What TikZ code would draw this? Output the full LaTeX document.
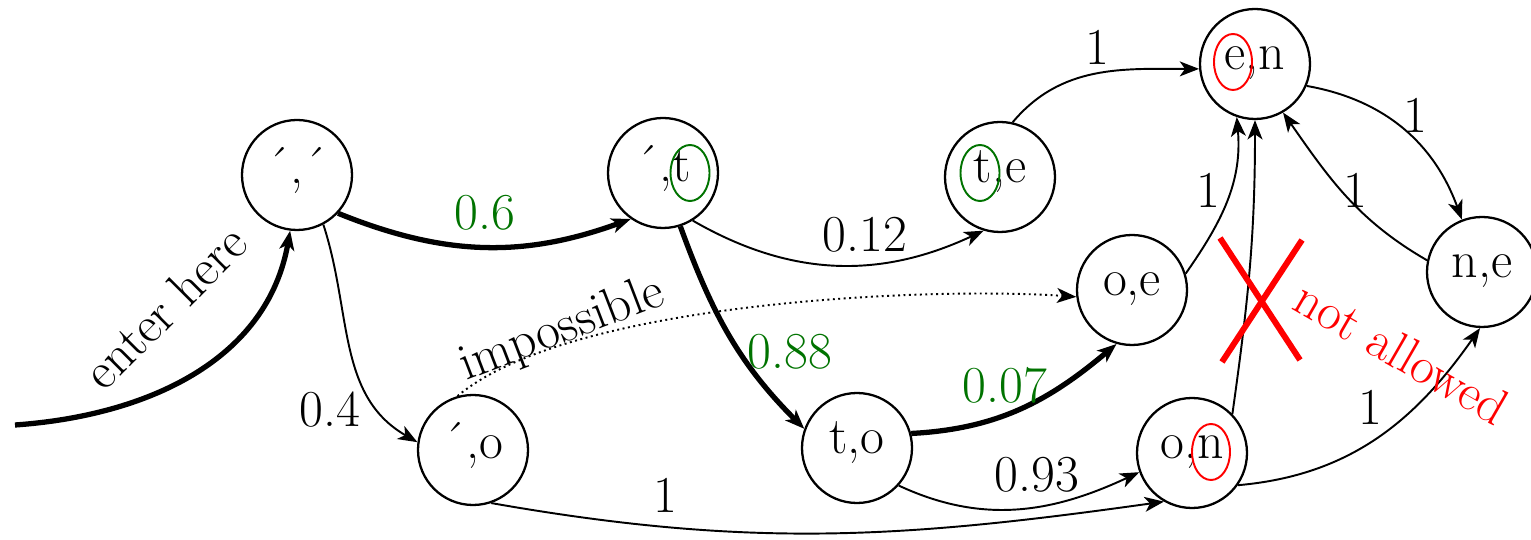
\documentclass[tikz,border=0pt]{standalone}
\usetikzlibrary{arrows.meta}
\definecolor{verde}{RGB}{0,115,0}

\begin{document}
\begin{tikzpicture}[
    >={Stealth[length=11pt,width=8.5pt,inset=3pt]},
    estado/.style={draw,circle,line width=1.3pt,minimum size=2.2cm,inner sep=0pt,
        text height=0.78em,text depth=0.16em},
    acento/.style={text height=1.1em},
    fina/.style={->,line width=1.1pt},
    grossa/.style={->,line width=3pt},
    rotulo/.style={inner sep=0pt},
    font=\fontsize{29.5}{34}\selectfont]
    \useasboundingbox (0,0) rectangle (30.62,10.8);
    % Estados
    \node[estado,acento] (sqq) at (5.94,7.30) {´,´};
    \node[estado,acento] (sqt) at (13.26,7.34) {´,t};
    \node[estado] (ste) at (20.00,7.26) {t,e};
    \node[estado] (sen) at (25.10,9.52) {e,n};
    \node[estado] (soe) at (22.64,5.00) {o,e};
    \node[estado] (sne) at (29.64,5.36) {n,e};
    \node[estado,acento] (sqo) at (9.46,1.80) {´,o};
    \node[estado] (sto) at (17.14,1.84) {t,o};
    \node[estado] (son) at (23.84,1.74) {o,n};
    % Entrada
    \coordinate (inicio) at (0.30,2.30);
    \draw[grossa] (inicio) to[out=4,in=-100] (sqq.-97);
    \node[rotulo,rotate=45] (entra) at (3.30,4.66) {enter here};
    % Caminho verde
    \draw[grossa] (sqq.-43) to[out=-22,in=-160] (sqt.-125);
    \node[rotulo,text=verde] (p06) at (9.70,6.54) {0.6};
    \draw[grossa] (sqt.-72) to[out=-70,in=135] (sto.160);
    \node[rotulo,text=verde] (p088) at (15.80,3.76) {0.88};
    \draw[grossa] (sto.15) to[out=3,in=-140] (soe.-106);
    \node[rotulo,text=verde] (p007) at (20.10,3.10) {0.07};
    % Demais transicoes
    \draw[fina] (sqq.-62) to[out=-72,in=150] (sqo.172);
    \node[rotulo] (p04) at (6.60,2.60) {0.4};
    \draw[fina] (sqt.-58) to[out=-30,in=-155] (ste.-107);
    \node[rotulo] (p012) at (17.30,6.10) {0.12};
    \draw[fina] (ste.77) to[out=50,in=180] (sen.185);
    \node[rotulo] (p1a) at (21.94,9.86) {1};
    \draw[fina] (sen.-23) to[out=-10,in=110] (sne.111);
    \node[rotulo] (p1b) at (28.30,8.50) {1};
    \draw[fina] (sne.168) to[out=150,in=-55] (sen.-60);
    \node[rotulo] (p1c) at (27.10,7.00) {1};
    \draw[fina] (soe.17) to[out=55,in=-85] (sen.-109);
    \node[rotulo] (p1d) at (24.16,7.00) {1};
    \draw[fina] (son.44) to[out=82,in=-90] (sen.-90);
    \draw[fina] (son.-35) to[out=5,in=-125] (sne.-92);
    \node[rotulo] (p1e) at (27.40,2.66) {1};
    \draw[fina] (sto.-42) to[out=-25,in=-155] (son.-160);
    \node[rotulo] (p093) at (20.74,1.30) {0.93};
    \draw[fina] (sqo.-71) to[out=-10,in=-172] (son.-120);
    \node[rotulo] (p1f) at (13.30,0.90) {1};
    % Transicao impossivel
    \draw[->,dotted,line width=1.1pt] (sqo.106) to[out=40,in=176,looseness=0.6] (soe.187);
    \node[rotulo,rotate=21] (imp) at (11.24,4.20) {impossible};
    % Elipses
    \draw[verde,line width=1.1pt] (13.80,7.34) ellipse[x radius=0.39,y radius=0.56];
    \draw[verde,line width=1.1pt] (19.60,7.34) ellipse[x radius=0.39,y radius=0.56];
    \draw[red,line width=1.1pt] (24.66,9.56) ellipse[x radius=0.38,y radius=0.56];
    \draw[red,line width=1.1pt] (24.22,1.76) ellipse[x radius=0.38,y radius=0.56];
    % Proibido
    \draw[red,line width=3.4pt] (24.40,6.04) -- (26.00,3.60);
    \draw[red,line width=3.4pt] (26.04,6.00) -- (24.44,3.56);
    \node[rotulo,text=red,rotate=-30] (proib) at (28.04,3.76) {not allowed};
\end{tikzpicture}
\end{document}
